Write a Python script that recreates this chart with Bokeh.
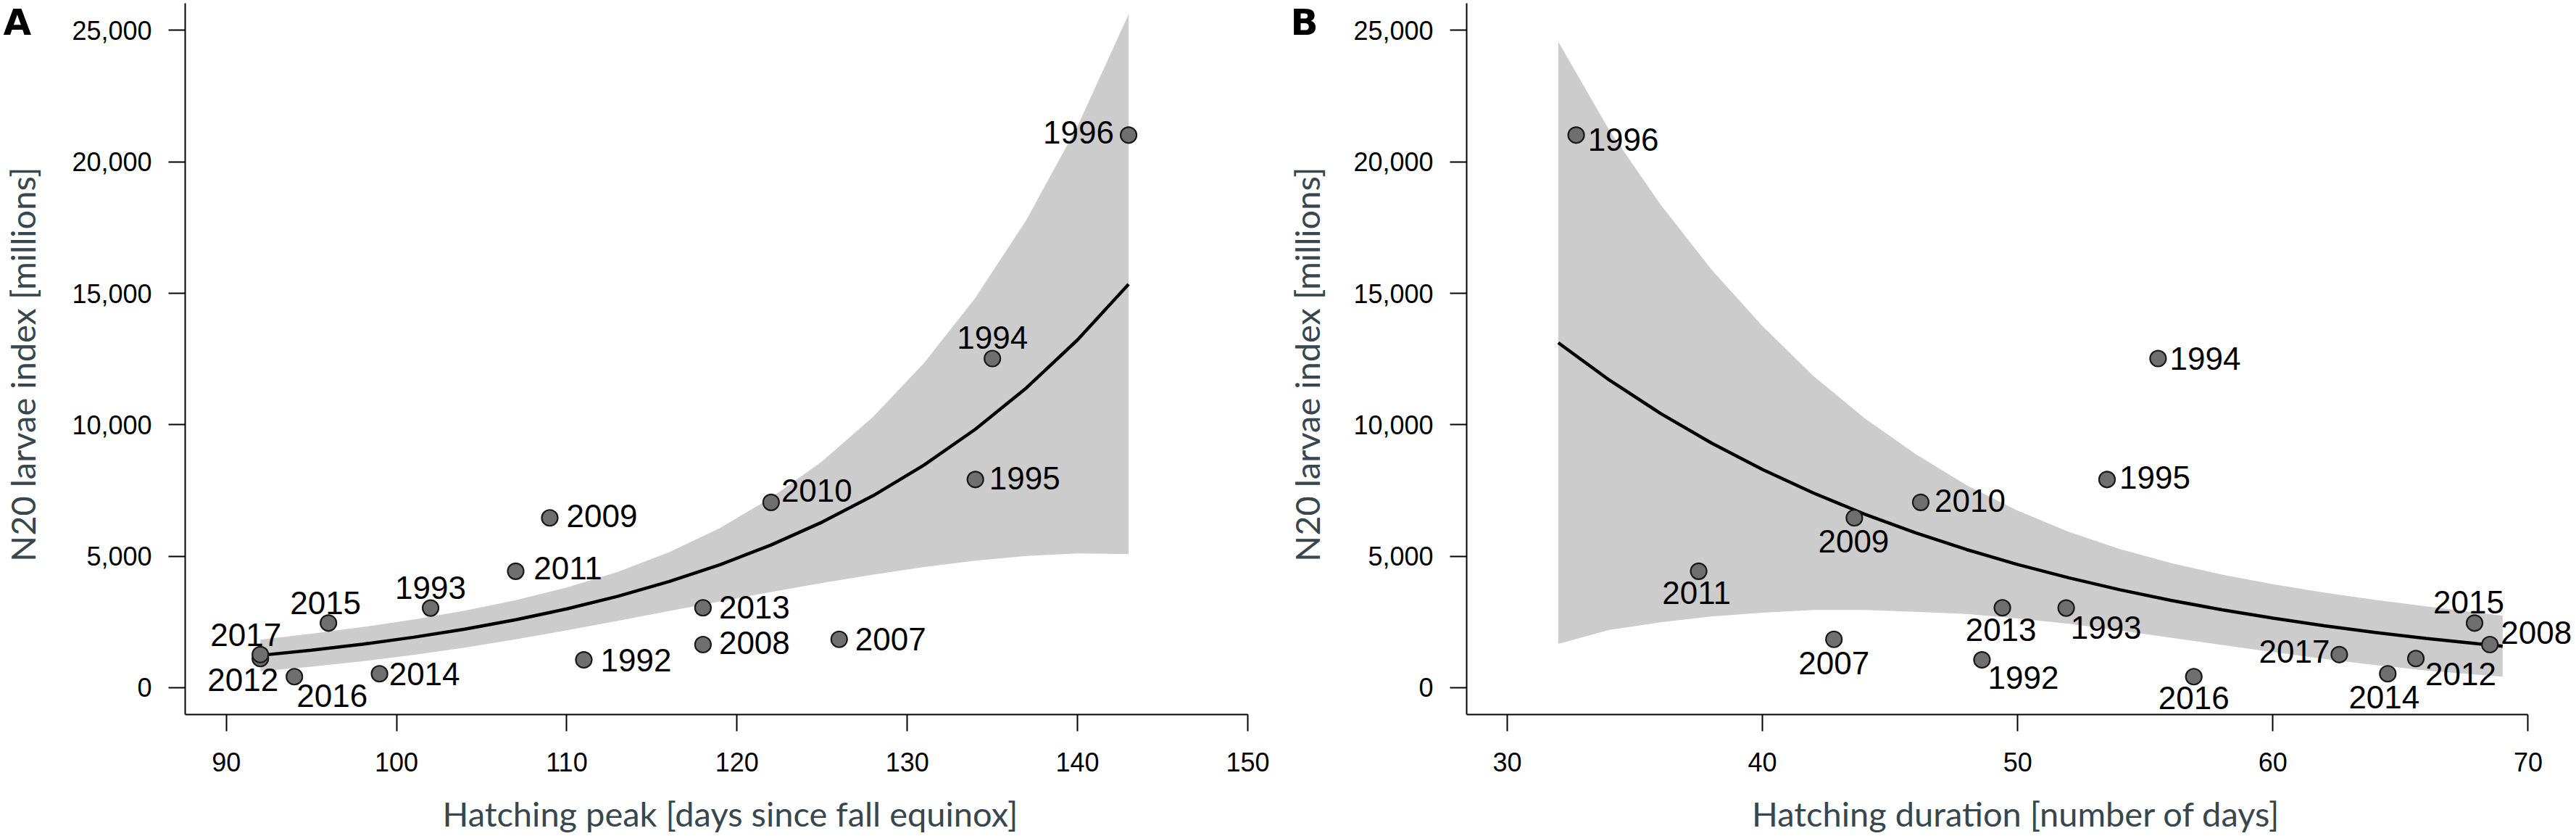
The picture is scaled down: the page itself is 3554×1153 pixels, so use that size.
import math
from bokeh.plotting import figure
from bokeh.models import Range1d, FixedTicker, NumeralTickFormatter, ColumnDataSource
from bokeh.layouts import row
from bokeh.embed import file_html
from bokeh.resources import INLINE
from bokeh.core.properties import value

# ---------------- data ----------------
years = [1992, 1993, 1994, 1995, 1996, 2007, 2008, 2009, 2010, 2011, 2012, 2013, 2014, 2015, 2016, 2017]
larvae_index = [1060, 3030, 12520, 7920, 21020, 1840, 1640, 6460, 7050, 4430, 1110, 3040, 530, 2460, 420, 1260]
hatching_peak = [111, 102, 135, 134, 143, 126, 118, 109, 122, 107, 92, 118, 99, 96, 94, 92]
hatching_duration = [48.6, 51.9, 55.5, 53.5, 32.7, 42.8, 68.5, 43.6, 46.2, 37.5, 65.6, 49.4, 64.5, 67.9, 56.9, 62.6]

x_ticks_a = [90, 100, 110, 120, 130, 140, 150]
x_ticks_b = [30, 40, 50, 60, 70]
y_ticks = [0, 5000, 10000, 15000, 20000, 25000]

# fitted curve and confidence band, panel A
fit_a_x = [92, 95, 98, 101, 104, 107, 110, 113, 116, 119, 122, 125, 128, 131, 134, 137, 140, 143]
fit_a_y = [1230, 1427, 1655, 1920, 2228, 2584, 2998, 3477, 4034, 4680, 5429, 6298, 7306, 8475, 9831, 11405, 13230, 15348]
fit_a_lo = [630, 800, 1004, 1245, 1524, 1839, 2184, 2547, 2917, 3284, 3641, 3983, 4302, 4589, 4832, 5012, 5106, 5084]
fit_a_hi = [1830, 2054, 2306, 2595, 2932, 3329, 3812, 4407, 5151, 6076, 7217, 8613, 10310, 12361, 14830, 17798, 21354, 25612]

# fitted curve and confidence band, panel B
fit_b_x = [32, 34, 36, 38, 40, 42, 44, 46, 48, 50, 52, 54, 56, 58, 60, 62, 64, 66, 68, 69]
fit_b_y = [13119, 11701, 10436, 9308, 8302, 7404, 6604, 5890, 5254, 4686, 4180, 3727, 3324, 2965, 2645, 2359, 2104, 1876, 1674, 1581]
fit_b_lo = [1669, 2201, 2486, 2708, 2852, 2954, 2954, 2890, 2804, 2636, 2430, 2177, 1904, 1625, 1355, 1099, 864, 656, 494, 421]
fit_b_hi = [24569, 21201, 18386, 15908, 13752, 11854, 10254, 8890, 7704, 6736, 5930, 5277, 4744, 4305, 3935, 3619, 3344, 3096, 2854, 2741]

# ---------------- layout / style ----------------
H = 1153
Y_VIEW = (-5654, 26144)          # whole canvas height in data units
Y_AXIS_BOUNDS = (-1020, 26034)   # drawn extent of the y axis line
TITLE_COLOR = "#38464d"
Y_TITLE = "N20 larvae index [millions]"

# label offsets in screen pixels (dx, dy; dy positive = down)
offs_a = {1992: (72, 0), 1993: (0, -28), 1994: (0, -29), 1995: (68, -2), 1996: (-69, -4),
          2007: (71, 0), 2008: (71, -3), 2009: (72, -3), 2010: (63, -16), 2011: (72, -4),
          2012: (-24, 29), 2013: (71, -1), 2014: (62, 0), 2015: (-4, -28), 2016: (52, 26),
          2017: (-20, -27)}
offs_b = {1992: (57, 24), 1993: (55, 27), 1994: (65, 0), 1995: (66, -3), 1996: (65, 6),
          2007: (0, 33), 2008: (64, -17), 2009: (-1, 32), 2010: (68, -2), 2011: (-3, 30),
          2012: (62, 21), 2013: (-2, 30), 2014: (-5, 32), 2015: (-8, -29), 2016: (0, 29),
          2017: (-62, -4)}


def make_panel(width, x_view, x_bounds, xticks, xs, fx, fy, flo, fhi, offs,
               xtitle, xtitle_x, ytitle_x, letter, letter_x):
    p = figure(width=width, height=H, x_range=Range1d(*x_view), y_range=Range1d(*Y_VIEW),
               output_backend="svg", toolbar_location=None,
               min_border_left=0, min_border_right=0, min_border_top=0, min_border_bottom=0)
    p.outline_line_color = None
    p.grid.visible = False
    p.background_fill_color = "white"
    p.border_fill_color = "white"

    xa = p.xaxis[0]
    ya = p.yaxis[0]
    xa.fixed_location = Y_AXIS_BOUNDS[0]
    xa.bounds = x_bounds
    ya.fixed_location = x_bounds[0]
    ya.bounds = Y_AXIS_BOUNDS
    for ax in (xa, ya):
        ax.axis_line_color = "black"
        ax.axis_line_width = 2
        ax.major_tick_line_color = "black"
        ax.major_tick_line_width = 2
        ax.major_tick_out = 23
        ax.major_tick_in = 0
        ax.minor_tick_out = 0
        ax.minor_tick_in = 0
        ax.major_label_text_font = "Liberation Sans"
        ax.major_label_text_font_size = "36px"
        ax.major_label_text_color = "black"
    xa.ticker = FixedTicker(ticks=xticks)
    xa.major_label_standoff = 30
    ya.ticker = FixedTicker(ticks=y_ticks)
    ya.formatter = NumeralTickFormatter(format="0,0")
    ya.major_label_standoff = 23

    p.varea(x=fx, y1=flo, y2=fhi, fill_color="#cccccc", fill_alpha=1.0)
    p.line(x=fx, y=fy, line_color="black", line_width=4.5)

    src = ColumnDataSource(dict(
        x=xs, y=larvae_index, t=[str(yr) for yr in years],
        dx=[offs[yr][0] for yr in years], dy=[offs[yr][1] for yr in years]))
    p.scatter(x="x", y="y", source=src, marker="circle", size=22,
              fill_color="#6f6f6f", line_color="#1a1a1a", line_width=2.2)
    p.text(x="x", y="y", text="t", source=src, x_offset="dx", y_offset="dy",
           text_align="center", text_baseline="middle",
           text_font=value("Liberation Sans"), text_font_size=value("44px"),
           text_color="black")

    # axis titles and panel letter (drawn inside the full-canvas frame)
    p.text(x=[xtitle_x], y=[-4780], text=[xtitle], text_align="center",
           text_baseline="alphabetic", text_font=value("Lato"),
           text_font_size=value("47px"), text_color=TITLE_COLOR)
    p.text(x=[ytitle_x], y=[12300], text=[Y_TITLE], angle=math.pi / 2,
           text_align="center", text_baseline="middle", text_font=value("Lato"),
           text_font_size=value("47px"), text_color=TITLE_COLOR)
    p.text(x=[letter_x], y=[26100], text=[letter], text_align="left",
           text_baseline="top", text_font=value("DejaVu Sans"),
           text_font_style="bold", text_font_size=value("50px"), text_color="black")
    return p


pa = make_panel(1768, (76.729, 152.002), (87.59, 150.0), x_ticks_a, hatching_peak,
                fit_a_x, fit_a_y, fit_a_lo, fit_a_hi, offs_a,
                "Hatching peak [days since fall equinox]", 119.6, 78.01, "A", 76.90)
pb = make_panel(1786, (21.168, 71.889), (28.41, 70.0), x_ticks_b, hatching_duration,
                fit_b_x, fit_b_y, fit_b_lo, fit_b_hi, offs_b,
                "Hatching duration [number of days]", 49.94, 22.16, "B", 21.51)

layout = row(pa, pb)
open("out.html", "w").write(file_html(layout, INLINE))
